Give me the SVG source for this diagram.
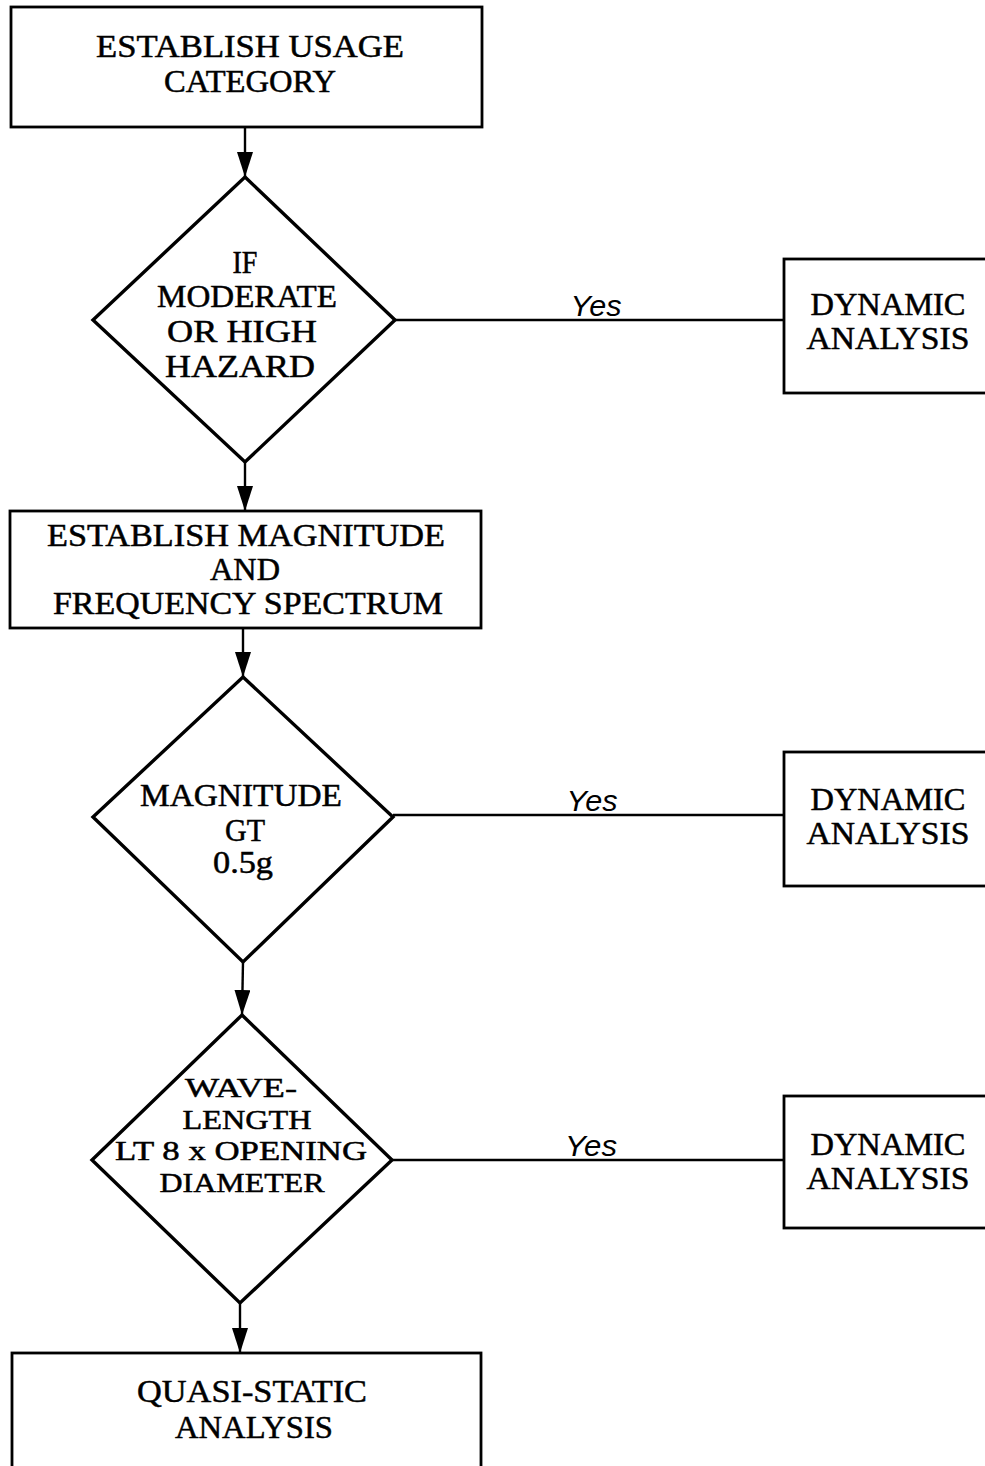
<svg xmlns="http://www.w3.org/2000/svg" width="985" height="1466" viewBox="0 0 985 1466">
<style>
.box{fill:#fff;stroke:#000;stroke-width:2.8}
.dia{fill:#fff;stroke:#000;stroke-width:3.4;stroke-linejoin:miter}
.conn{fill:none;stroke:#000;stroke-width:2.4}
.t{font-family:"Liberation Serif","Times New Roman",serif;font-size:31px;fill:#000;stroke:#000;stroke-width:0.5;text-anchor:middle}
.s{font-size:28px}
.yes{font-family:"Liberation Sans",Arial,sans-serif;font-size:29px;font-style:italic;fill:#000;text-anchor:middle}
</style>
<defs>
<marker id="ah" viewBox="0 0 25 16" refX="25" refY="8" markerWidth="25" markerHeight="16" markerUnits="userSpaceOnUse" orient="auto">
<path d="M0,0 L25,8 L0,16 z" fill="#000"/>
</marker>
</defs>
<rect width="985" height="1466" fill="#fff"/>
<g id="connectors">
<line class="conn" x1="245" y1="127" x2="245" y2="177" marker-end="url(#ah)"/>
<line class="conn" x1="245" y1="462" x2="245" y2="511" marker-end="url(#ah)"/>
<line class="conn" x1="243" y1="628" x2="243" y2="677" marker-end="url(#ah)"/>
<line class="conn" x1="243" y1="962" x2="242" y2="1015" marker-end="url(#ah)"/>
<line class="conn" x1="240" y1="1303" x2="240" y2="1353" marker-end="url(#ah)"/>
<line class="conn" x1="395" y1="320" x2="784" y2="320"/>
<line class="conn" x1="393" y1="815" x2="784" y2="815"/>
<line class="conn" x1="392" y1="1160" x2="784" y2="1160"/>
<text class="yes" x="596" y="316" textLength="51" lengthAdjust="spacingAndGlyphs">Yes</text>
<text class="yes" x="592" y="811" textLength="51" lengthAdjust="spacingAndGlyphs">Yes</text>
<text class="yes" x="591" y="1156" textLength="52" lengthAdjust="spacingAndGlyphs">Yes</text>
</g>
<g id="n1">
<rect class="box" x="11" y="7" width="471" height="120"/>
<text class="t" x="250" y="57" textLength="308" lengthAdjust="spacingAndGlyphs">ESTABLISH USAGE</text>
<text class="t" x="250" y="92" textLength="172" lengthAdjust="spacingAndGlyphs">CATEGORY</text>
</g>
<g id="d1">
<polygon class="dia" points="245,177 395,320 245,462 93,320"/>
<text class="t" x="245" y="273" textLength="25" lengthAdjust="spacingAndGlyphs">IF</text>
<text class="t" x="247" y="307" textLength="180" lengthAdjust="spacingAndGlyphs">MODERATE</text>
<text class="t" x="242" y="342" textLength="150" lengthAdjust="spacingAndGlyphs">OR HIGH</text>
<text class="t" x="240" y="377" textLength="150" lengthAdjust="spacingAndGlyphs">HAZARD</text>
</g>
<g id="dyn1">
<rect class="box" x="784" y="259" width="215" height="134"/>
<text class="t" x="888" y="315" textLength="155" lengthAdjust="spacingAndGlyphs">DYNAMIC</text>
<text class="t" x="888" y="349" textLength="163" lengthAdjust="spacingAndGlyphs">ANALYSIS</text>
</g>
<g id="n2">
<rect class="box" x="10" y="511" width="471" height="117"/>
<text class="t" x="246" y="546" textLength="398" lengthAdjust="spacingAndGlyphs">ESTABLISH MAGNITUDE</text>
<text class="t" x="245" y="580" textLength="70" lengthAdjust="spacingAndGlyphs">AND</text>
<text class="t" x="248" y="614" textLength="390" lengthAdjust="spacingAndGlyphs">FREQUENCY SPECTRUM</text>
</g>
<g id="d2">
<polygon class="dia" points="243,677 393,817 243,962 93,817"/>
<text class="t" x="241" y="806" textLength="202" lengthAdjust="spacingAndGlyphs">MAGNITUDE</text>
<text class="t" x="245" y="841" textLength="40" lengthAdjust="spacingAndGlyphs">GT</text>
<text class="t" x="243" y="873" textLength="60" lengthAdjust="spacingAndGlyphs">0.5g</text>
</g>
<g id="dyn2">
<rect class="box" x="784" y="752" width="215" height="134"/>
<text class="t" x="888" y="810" textLength="155" lengthAdjust="spacingAndGlyphs">DYNAMIC</text>
<text class="t" x="888" y="844" textLength="163" lengthAdjust="spacingAndGlyphs">ANALYSIS</text>
</g>
<g id="d3">
<polygon class="dia" points="242,1015 392,1160 240,1303 92,1160"/>
<text class="t s" x="241" y="1097" textLength="112" lengthAdjust="spacingAndGlyphs">WAVE-</text>
<text class="t s" x="247" y="1129" textLength="129" lengthAdjust="spacingAndGlyphs">LENGTH</text>
<text class="t s" x="241" y="1160" textLength="252" lengthAdjust="spacingAndGlyphs">LT 8 x OPENING</text>
<text class="t s" x="242" y="1192" textLength="165" lengthAdjust="spacingAndGlyphs">DIAMETER</text>
</g>
<g id="dyn3">
<rect class="box" x="784" y="1096" width="215" height="132"/>
<text class="t" x="888" y="1155" textLength="155" lengthAdjust="spacingAndGlyphs">DYNAMIC</text>
<text class="t" x="888" y="1189" textLength="163" lengthAdjust="spacingAndGlyphs">ANALYSIS</text>
</g>
<g id="n4">
<rect class="box" x="12" y="1353" width="469" height="140"/>
<text class="t" x="252" y="1402" textLength="230" lengthAdjust="spacingAndGlyphs">QUASI-STATIC</text>
<text class="t" x="254" y="1438" textLength="158" lengthAdjust="spacingAndGlyphs">ANALYSIS</text>
</g>
</svg>
